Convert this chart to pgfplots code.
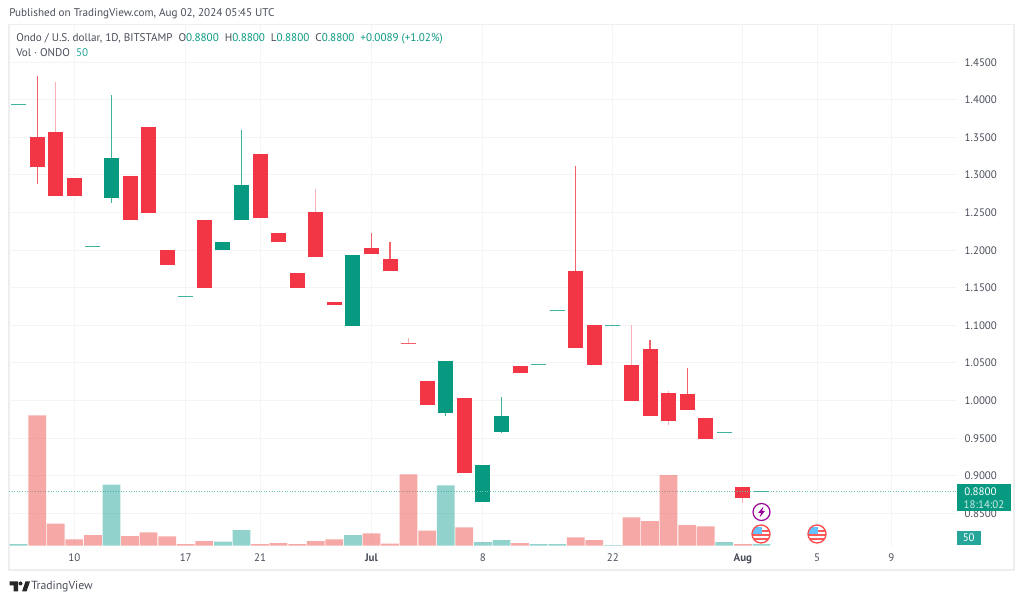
\documentclass[border=0pt]{standalone}
\usepackage{pgfplots}
\pgfplotsset{compat=1.18}
\usepackage{pgfplotstable}
\usepackage{fontspec}
\setmainfont{PT Sans}
\definecolor{tvred}{HTML}{F23645}
\definecolor{tvgreen}{HTML}{089981}
\definecolor{volred}{HTML}{EF5350}
\definecolor{volgreen}{HTML}{26A69A}
\definecolor{wickred}{HTML}{F2606C}
\definecolor{wickpale}{HTML}{FBB0B5}
\definecolor{wickgreen}{HTML}{3FB3A0}
\definecolor{dotline}{HTML}{6CC4B6}
\definecolor{txt}{HTML}{4A4E5A}
\definecolor{gridc}{HTML}{F4F4F6}
\definecolor{framec}{HTML}{EEEEF1}

% candles: i open high low close
\pgfplotstableread{
i  open  high  low   close
1  1.351 1.432 1.288 1.311
3  1.296 1.296 1.272 1.272
6  1.299 1.299 1.240 1.240
7  1.364 1.364 1.250 1.250
8  1.200 1.200 1.180 1.180
10 1.240 1.240 1.150 1.150
13 1.328 1.328 1.243 1.243
14 1.2225 1.2225 1.2105 1.2105
15 1.170 1.170 1.150 1.150
17 1.131 1.131 1.127 1.127
19 1.2025 1.223 1.195 1.195
20 1.188 1.211 1.172 1.172
22 1.0257 1.0257 0.9945 0.9945
24 1.003 1.003 0.9037 0.9037
27 1.0456 1.0456 1.0363 1.0363
30 1.172 1.312 1.0695 1.0695
31 1.100 1.100 1.048 1.048
34 1.069 1.0805 0.9795 0.9795
36 1.009 1.043 0.987 0.987
37 0.9765 0.9765 0.9494 0.9494
}\redcandles
\pgfplotstableread{
i  open  high  low   close
2  1.357 1.424 1.272 1.272
16 1.251 1.282 1.191 1.191
33 1.048 1.100 0.9995 0.9995
35 1.010 1.013 0.968 0.9729
39 0.8855 0.8855 0.864 0.871
}\palecandles
\pgfplotstableread{
i  open  high  low   close
5  1.270 1.406 1.263 1.3226
11 1.200 1.211 1.200 1.211
12 1.240 1.360 1.240 1.287
18 1.099 1.1935 1.099 1.1935
23 0.983 1.053 0.980 1.053
25 0.865 0.914 0.865 0.914
26 0.9586 1.005 0.957 0.979
}\greencandles
% one-price days
\pgfplotstableread{
i  price
0  1.394
4  1.205
9  1.139
28 1.048
29 1.120
32 1.100
38 0.958
40 0.8795
}\flatgreen
% volume
\pgfplotstableread{
i  vol
1  3910
2  660
3  190
4  320
6  290
7  400
8  280
9  50
10 140
13 50
14 80
15 50
16 140
17 190
19 370
20 60
21 2140
22 450
24 550
27 80
30 250
31 170
33 850
34 740
35 2120
36 620
37 580
39 50
}\volred
\pgfplotstableread{
i  vol
0  50
5  1830
11 120
12 470
18 320
23 1810
25 110
26 170
28 50
29 50
32 20
38 110
40 50
}\volgreen

\newcommand{\candles}[3]{%
  \addplot[#3, draw=none, mark=none, error bars/.cd, y dir=plus, y explicit, error mark=none,
    error bar style={solid, line width=0.9pt, #3}]
    table[x=i, y=low, y error plus expr=\thisrow{high}-\thisrow{low}] {#1};
  \addplot[#2, draw=none, mark=none, error bars/.cd, y dir=plus, y explicit, error mark=none,
    error bar style={solid, line width=11.25pt, #2}]
    table[x=i, y=close, y error plus expr=\thisrow{open}-\thisrow{close}] {#1};
}

\begin{document}
\begin{tikzpicture}[every node/.style={inner sep=0pt}]
% page size, image pixels are 0.75pt
\useasboundingbox (-6.75pt,-42.225pt) rectangle (761.25pt,409.275pt);
\begin{scope}[xshift=-6.75pt, yshift=409.275pt, x=0.75pt, y=-0.75pt]
  \fill[white] (0,0) rectangle (1024,602);
  \draw[framec, line width=0.9pt] (9,24.5) rectangle (1014,570);
  \node[anchor=west, text=txt, font=\fontsize{8.35}{9}\selectfont] at (9,14) {Published on TradingView.com, Aug 02, 2024 05:45 UTC};
\end{scope}

\begin{axis}[
    at={(0,0)}, anchor=south west, scale only axis,
    width=711pt, height=391.275pt,
    xmin=-0.517, xmax=50.53,
    ymin=0.80705, ymax=1.5008,
    axis line style={draw=none},
    major tick length=0pt,
    xtick={3,9,13,19,25,32,39,43,47},
    xticklabels={10,17,21,\textbf{Jul},8,22,\textbf{Aug},5,9},
    ytick={0.85,0.9,0.95,1,1.05,1.1,1.15,1.2,1.25,1.3,1.35,1.4,1.45},
    yticklabel pos=right,
    scaled y ticks=false,
    grid=major,
    grid style={gridc, line width=0.75pt},
    tick label style={font=\fontsize{8.2}{10}\selectfont, text=txt},
    xticklabel style={yshift=-6pt},
    yticklabel style={xshift=5.6pt, /pgf/number format/.cd, fixed, fixed zerofill, precision=4, assume math mode=true},
    clip=true,
]
\candles{\redcandles}{tvred}{wickred}
\candles{\palecandles}{tvred}{wickpale}
\candles{\greencandles}{tvgreen}{wickgreen}
\addplot[only marks, mark=-, mark size=5.6pt, mark options={wickgreen, line width=0.75pt}] table[x=i, y=price] {\flatgreen};
\addplot[only marks, mark=-, mark size=5.6pt, mark options={wickred, line width=0.75pt}] coordinates {(21,1.076)};
\addplot[wickpale, line width=0.9pt] coordinates {(21,1.076)(21,1.083)};
\addplot[dotline, dash pattern=on 0.75pt off 1.2pt, line width=0.75pt] coordinates {(-0.517,0.8795)(50.53,0.8795)};
\end{axis}

\begin{axis}[
    at={(0,0)}, anchor=south west, scale only axis,
    width=711pt, height=391.275pt,
    xmin=-0.517, xmax=50.53,
    ymin=0, ymax=15651,
    hide axis,
    ybar, bar width=13.3pt, bar shift=0pt,
]
\addplot[draw=none, fill=volred, fill opacity=0.5] table[x=i, y=vol] {\volred};
\addplot[draw=none, fill=volgreen, fill opacity=0.5] table[x=i, y=vol] {\volgreen};
\end{axis}

\begin{scope}[xshift=-6.75pt, yshift=409.275pt, x=0.75pt, y=-0.75pt]
  % legend lines
  \node[anchor=west, font=\fontsize{8.35}{9}\selectfont] at (16,38.5)
    {\textcolor{txt}{Ondo / U.S. dollar, 1D, BITSTAMP\ \ O}\textcolor{tvgreen}{0.8800}\textcolor{txt}{\ \ H}\textcolor{tvgreen}{0.8800}\textcolor{txt}{\ \ L}\textcolor{tvgreen}{0.8800}\textcolor{txt}{\ \ C}\textcolor{tvgreen}{0.8800\ \ +0.0089 (+1.02\%)}};
  \node[anchor=west, font=\fontsize{8.35}{9}\selectfont] at (16,53)
    {\textcolor{txt}{Vol · ONDO}\ \ \textcolor{volgreen}{50}};
  % last price box
  \fill[tvgreen] (957,484) rectangle (1011,511.5);
  \node[text=white, font=\fontsize{8.2}{10}\selectfont] at (980.5,491.5) {0.8800};
  \node[text=white, opacity=0.8, font=\fontsize{8.2}{10}\selectfont] at (984,504.5) {18:14:02};
  % volume box
  \fill[volgreen] (957,531) rectangle (980.5,545);
  \node[text=white, font=\fontsize{8.2}{10}\selectfont] at (968.7,538) {50};
  % event icons
  \filldraw[draw=violet!80!magenta, fill=white, line width=0.9pt] (761.5,512) circle (8.5);
  \fill[violet!80!magenta] (763.5,506.5) -- (758,513) -- (761,513) -- (759.5,517.5) -- (765,511) -- (762,511) -- cycle;
  \foreach \cx in {761,817}{
    \begin{scope}
      \clip (\cx,534) circle (9);
      \fill[white] (\cx-9,525) rectangle (\cx+9,543);
      \fill[red!65!white] (\cx-9,530) rectangle (\cx+9,532);
      \fill[red!65!white] (\cx-9,534) rectangle (\cx+9,536);
      \fill[red!65!white] (\cx-9,538) rectangle (\cx+9,540);
      \fill[blue!40!cyan!60!white] (\cx-8,527) rectangle (\cx+1,534);
    \end{scope}
    \draw[red!70!white, line width=1pt] (\cx,534) circle (9);
  }
  % logo
  \fill[black!85] (9.5,581.5) -- (18,581.5) -- (18,591.5) -- (13.5,591.5) -- (13.5,585.5) -- (9.5,585.5) -- cycle;
  \fill[black!85] (20.5,583.5) circle (2);
  \fill[black!85] (22,591.5) -- (25.5,581.5) -- (30,581.5) -- (26.5,591.5) -- cycle;
  \node[anchor=west, text=txt, font=\fontsize{8.8}{11}\selectfont] at (31,587) {TradingView};
\end{scope}
\end{tikzpicture}
\end{document}
